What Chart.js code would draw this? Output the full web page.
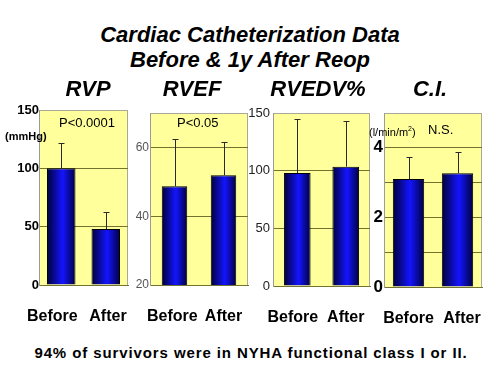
<!DOCTYPE html>
<html>
<head>
<meta charset="utf-8">
<script src="https://cdn.jsdelivr.net/npm/chart.js@4.4.1/dist/chart.umd.min.js"></script>
<style>
  body { margin: 0; width: 500px; height: 375px; overflow: hidden; position: relative; background: #fff;
         font-family: "Liberation Sans", Arial, sans-serif; }
  .t { position: absolute; white-space: nowrap; color: #000; line-height: 1; z-index: 2; }
  .c { transform: translateX(-50%); }
  .big { font-size: 22px; font-weight: bold; font-style: italic; }
  canvas { position: absolute; z-index: 1; }
</style>
</head>
<body>
<div class="t c big" style="left:250px; top:24px;">Cardiac Catheterization Data</div>
<div class="t c big" style="left:250px; top:49px;">Before &amp; 1y After Reop</div>
<div class="t c big" style="left:88px; top:78px;">RVP</div>
<div class="t c big" style="left:192px; top:78px;">RVEF</div>
<div class="t c big" style="left:318px; top:78px;">RVEDV%</div>
<div class="t c big" style="left:430px; top:78px;">C.I.</div>

<div class="t" style="left:5px; top:131px; font-size:11px; font-weight:bold;">(mmHg)</div>
<div class="t" style="left:59px; top:116px; font-size:13px;">P&lt;0.0001</div>
<div class="t" style="left:177px; top:116px; font-size:13px;">P&lt;0.05</div>
<div class="t" style="left:369px; top:125px; font-size:11px;">(l/min/m<sup style="font-size:7px">2</sup>)</div>
<div class="t" style="left:428px; top:123px; font-size:13px;">N.S.</div>

<div class="t c" style="left:251px; top:345px; font-size:15px; font-weight:bold; letter-spacing:0.9px;">94% of survivors were in NYHA functional class I or II.</div>

<canvas id="rvp"></canvas>
<canvas id="rvef"></canvas>
<canvas id="rvedv"></canvas>
<canvas id="ci"></canvas>

<script>
// data (mean and upward SD)
const categories = ['Before', 'After'];

const rvpMean = [100, 48];
const rvpSD = [22, 15];
const rvefMean = [48.7, 51.9];
const rvefSD = [13.6, 9.6];
const rvedvMean = [98, 103.5];
const rvedvSD = [47, 39.5];
const ciMean = [3.1, 3.27];
const ciSD = [0.65, 0.62];

// axis ticks, labelled ticks, gridlines
const rvpTicks = [0, 50, 100, 150];
const rvpLabels = [0, 50, 100, 150];
const rvpGrid = [50, 100];
const rvefTicks = [20, 40, 60, 70];
const rvefLabels = [20, 40, 60];
const rvefGrid = [40, 60];
const rvedvTicks = [0, 50, 100, 150];
const rvedvLabels = [0, 50, 100, 150];
const rvedvGrid = [50, 100];
const ciTicks = [0, 1, 2, 3, 4, 5];
const ciLabels = [0, 2, 4];
const ciGrid = [1, 2, 3, 4];

const FONT = '"Liberation Sans", Arial, sans-serif';
const OLIVE = '#737330';

// yellow plot background with thin frame
const plotFrame = {
  id: 'plotFrame',
  beforeDraw(chart) {
    const { ctx, chartArea: a } = chart;
    ctx.save();
    ctx.fillStyle = '#ffff9c';
    ctx.fillRect(a.left, a.top, a.width, a.height);
    ctx.strokeStyle = '#a9a99a';
    ctx.lineWidth = 1;
    ctx.strokeRect(a.left + 0.5, a.top + 0.5, a.width - 1, a.height);
    ctx.restore();
  }
};

// upward error bars
const errorBars = {
  id: 'errorBars',
  afterDatasetsDraw(chart, args, opts) {
    const { ctx } = chart;
    const ys = chart.scales.y;
    const vals = chart.data.datasets[0].data;
    const meta = chart.getDatasetMeta(0);
    ctx.save();
    ctx.strokeStyle = '#2a2a2a';
    ctx.lineWidth = 1;
    meta.data.forEach((bar, i) => {
      const x = Math.round(bar.x) + 0.5;
      const top = Math.round(ys.getPixelForValue(vals[i] + opts.sd[i])) + 0.5;
      ctx.beginPath();
      ctx.moveTo(x, bar.y);
      ctx.lineTo(x, top);
      ctx.moveTo(x - 3, top);
      ctx.lineTo(x + 3, top);
      ctx.stroke();
    });
    ctx.restore();
  }
};

function blueFill(pct) {
  return (c) => {
    const chart = c.chart;
    if (!chart.chartArea) return '#0000cc';
    const xs = chart.scales.x;
    const cx = xs.getPixelForValue(c.dataIndex);
    const half = xs.width / categories.length * pct / 2;
    const g = chart.ctx.createLinearGradient(cx - half, 0, cx + half, 0);
    g.addColorStop(0, '#000038');
    g.addColorStop(0.55, '#1414ff');
    g.addColorStop(1, '#000040');
    return g;
  };
}

// nudge a category label sideways by padding it with spaces (~4.4px each at 16px bold)
function nudged(i, shift) {
  const s = shift[i] || 0;
  const sp = ' '.repeat(Math.round(Math.abs(s) * 2 / 4.4));
  return s < 0 ? categories[i] + sp : sp + categories[i];
}

function makePanel(id, p) {
  const canvas = document.getElementById(id);
  const w = p.right - p.left + 44;
  canvas.width = w;
  canvas.height = 230;
  canvas.style.left = (p.left - 40) + 'px';
  canvas.style.top = '100px';

  new Chart(canvas.getContext('2d'), {
    type: 'bar',
    data: {
      labels: categories,
      datasets: [{
        data: p.mean,
        backgroundColor: blueFill(p.bar),
        borderColor: '#000',
        borderWidth: 1,
        barPercentage: p.bar,
        categoryPercentage: 1
      }]
    },
    options: {
      responsive: false,
      animation: false,
      layout: { padding: { top: p.top - 100, right: 4, left: 0, bottom: 0 } },
      plugins: {
        legend: { display: false },
        tooltip: { enabled: false },
        errorBars: { sd: p.sd }
      },
      scales: {
        x: {
          afterFit: (s) => {
            s.height = 330 - p.bottom;
            // keep the label padding from squeezing the plot area
            s.paddingLeft = 0;
            s.paddingRight = 0;
          },
          grid: { display: false, drawTicks: false },
          border: { display: true, color: OLIVE },
          ticks: { color: '#000', padding: 22, maxRotation: 0, autoSkip: false,
                   callback: (v, i) => nudged(i, p.shift),
                   font: { family: FONT, size: 16, weight: 'bold' } }
        },
        y: {
          min: p.ticks[0],
          max: p.ticks[p.ticks.length - 1],
          afterBuildTicks: (s) => { s.ticks = p.ticks.map(v => ({ value: v })); },
          afterFit: (s) => { s.width = 40; },
          grid: {
            drawTicks: false,
            color: (c) => p.grid.includes(c.tick && c.tick.value) ? OLIVE : 'rgba(0,0,0,0)'
          },
          border: { display: true, color: '#9a9a9a' },
          ticks: {
            padding: p.pad,
            color: p.tickColor,
            font: { family: FONT, size: p.tickSize, weight: p.tickWeight },
            callback: (v) => p.labels.includes(v) ? String(v) : ''
          }
        }
      }
    },
    plugins: [plotFrame, errorBars]
  });
}

makePanel('rvp', { left: 39, right: 128, top: 110, bottom: 285, mean: rvpMean, sd: rvpSD,
  ticks: rvpTicks, labels: rvpLabels, grid: rvpGrid, bar: 0.64, shift: [-8, 3],
  pad: 0, tickColor: '#000', tickSize: 13, tickWeight: 'bold' });
makePanel('rvef', { left: 150, right: 248, top: 113, bottom: 285, mean: rvefMean, sd: rvefSD,
  ticks: rvefTicks, labels: rvefLabels, grid: rvefGrid, bar: 0.52, shift: [-3, 0],
  pad: 1, tickColor: '#555', tickSize: 12, tickWeight: 'normal' });
makePanel('rvedv', { left: 273, right: 370, top: 113, bottom: 286, mean: rvedvMean, sd: rvedvSD,
  ticks: rvedvTicks, labels: rvedvLabels, grid: rvedvGrid, bar: 0.55, shift: [-5, 1],
  pad: 3, tickColor: '#222', tickSize: 13, tickWeight: 'normal' });
makePanel('ci', { left: 384, right: 482, top: 113, bottom: 287, mean: ciMean, sd: ciSD,
  ticks: ciTicks, labels: ciLabels, grid: ciGrid, bar: 0.64, shift: [0, 5],
  pad: 1, tickColor: '#000', tickSize: 17, tickWeight: 'bold' });
</script>
</body>
</html>
